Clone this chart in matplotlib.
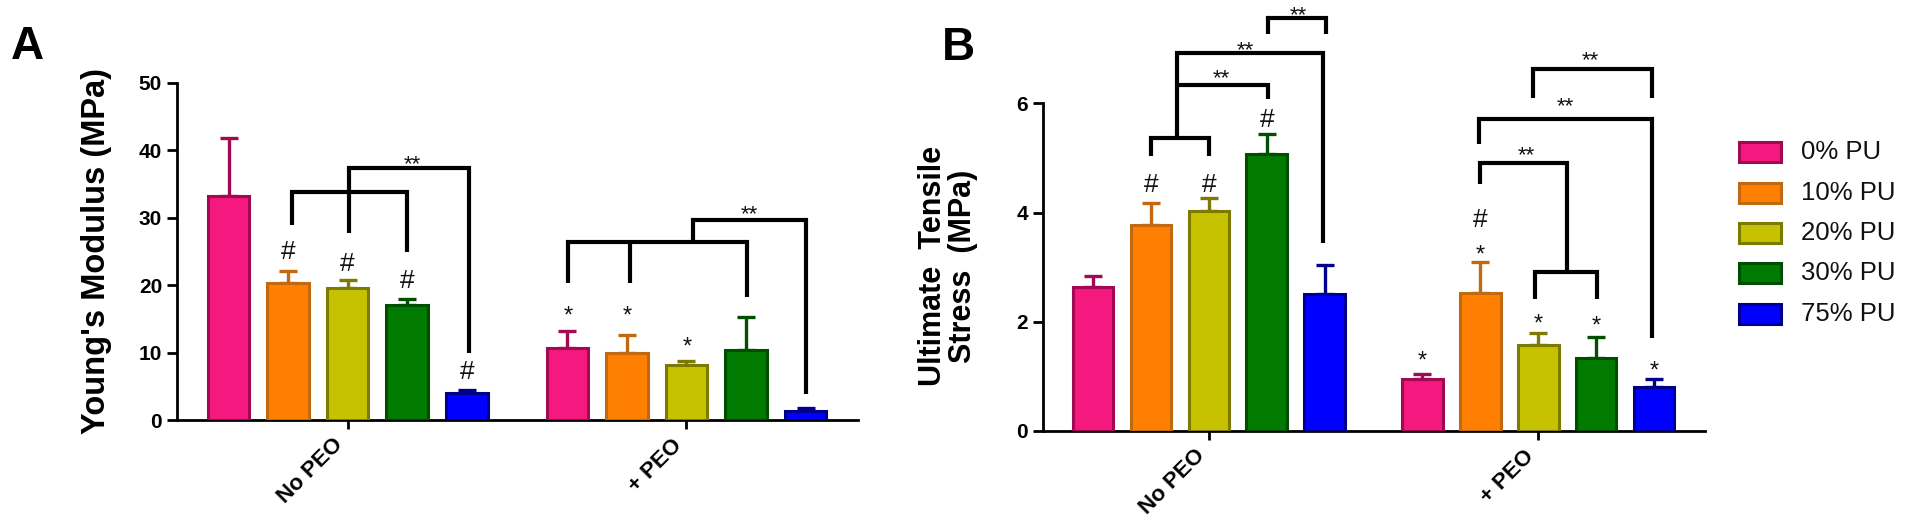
import matplotlib
matplotlib.use("Agg")
import matplotlib.pyplot as plt
from matplotlib.patches import Rectangle
import numpy as np

plt.rcParams['font.family'] = ['Liberation Sans', 'DejaVu Sans']

# ---------------- data ----------------
groups = ['No PEO', '+ PEO']
series = ['0% PU', '10% PU', '20% PU', '30% PU', '75% PU']

modulus_no_peo = [33.2, 20.3, 19.5, 17.0, 3.95]
modulus_no_peo_err = [8.6, 1.8, 1.2, 0.9, 0.55]
modulus_peo = [10.6, 9.9, 8.15, 10.4, 1.4]
modulus_peo_err = [2.6, 2.7, 0.65, 4.8, 0.4]

uts_no_peo = [2.63, 3.77, 4.03, 5.07, 2.50]
uts_no_peo_err = [0.21, 0.40, 0.23, 0.36, 0.54]
uts_peo = [0.95, 2.52, 1.58, 1.33, 0.80]
uts_peo_err = [0.09, 0.58, 0.21, 0.39, 0.15]

# significance annotations (x in bar slots, y in data units)
a_brackets = [
    [(-0.94, 28.9), (-0.94, 33.8), (1.0, 33.8), (1.0, 24.9)],
    [(0.03, 27.7), (0.03, 37.4), (2.03, 37.4), (2.03, 9.9)],
    [(3.70, 20.3), (3.70, 26.4), (6.70, 26.4), (6.70, 18.2)],
    [(4.74, 20.3), (4.74, 26.4)],
    [(5.80, 26.4), (5.80, 29.7), (7.69, 29.7), (7.69, 3.8)],
]
a_double = [(1.08, 39.0), (6.74, 31.6)]
a_marks = [('#', -1, 25.2), ('#', 0, 23.5), ('#', 1, 21.0), ('#', 2, 7.4),
           ('*', 3.70, 16.5), ('*', 4.70, 16.5), ('*', 5.70, 11.9)]

b_brackets = [
    [(-1.0, 5.04), (-1.0, 5.37), (0.0, 5.37), (0.0, 5.04)],
    [(-0.55, 5.37), (-0.55, 6.92), (1.98, 6.92), (1.98, 3.44)],
    [(-0.55, 6.34), (1.03, 6.34), (1.03, 6.07)],
    [(1.02, 7.27), (1.02, 7.56), (2.03, 7.56), (2.03, 7.27)],
    [(4.69, 4.52), (4.69, 4.90), (6.18, 4.90), (6.18, 2.92)],
    [(5.64, 2.42), (5.64, 2.92), (6.70, 2.92), (6.70, 2.42)],
    [(4.66, 5.25), (4.66, 5.71), (7.66, 5.71), (7.66, 1.70)],
    [(5.60, 6.09), (5.60, 6.62), (7.66, 6.62), (7.66, 6.09)],
]
b_double = [(0.22, 6.58), (0.63, 7.10), (1.54, 7.74), (5.48, 5.18), (6.16, 6.07), (6.59, 6.92)]
b_marks = [('#', -1, 4.54), ('#', 0, 4.55), ('#', 1, 5.73),
           ('*', 3.69, 1.42), ('#', 4.69, 3.90), ('*', 4.69, 3.35),
           ('*', 5.69, 2.09), ('*', 6.69, 2.05), ('*', 7.69, 1.24)]

fills = ['#F4187F', '#FF8000', '#C6C200', '#007A00', '#0000FF']
edges = ['#A00A52', '#C2680E', '#7C7A00', '#004F00', '#00008C']

# ---------------- layout ----------------
W, H = 1912, 526
fig = plt.figure(figsize=(W / 100, H / 100), dpi=100)

group_centers = np.array([0.0, 5.69])
slot = np.arange(5) - 2
bar_w = 0.70
xlim = (-2.87, 8.57)


def px_rect(left, right, top, bottom):
    return [left / W, 1 - bottom / H, (right - left) / W, (bottom - top) / H]


def mark(ax, x, y, s, size):
    frac = 0.35 if s == '#' else 0.585
    ax.annotate(s, (x, y), xytext=(0, -frac * size), textcoords='offset points',
                ha='center', va='baseline', fontsize=size, annotation_clip=False,
                color='#111111')


def panel(ax, no_peo, no_peo_err, peo, peo_err, ylim, yticks,
          brackets, doubles, marks):
    for i in range(5):
        xs = group_centers + slot[i]
        vals = [no_peo[i], peo[i]]
        errs = [no_peo_err[i], peo_err[i]]
        ax.errorbar(xs, vals, yerr=[[0, 0], errs], fmt='none', ecolor=edges[i],
                    elinewidth=2.4, capsize=6.5, capthick=2.4, zorder=2)
        ax.bar(xs, vals, width=bar_w, color=fills[i], edgecolor=edges[i],
               linewidth=2.2, zorder=3, label=series[i])
    for path in brackets:
        xs, ys = zip(*path)
        ax.plot(xs, ys, color='black', lw=3.0, clip_on=False,
                solid_joinstyle='miter', solid_capstyle='butt', zorder=5)
    for (x, y) in doubles:
        mark(ax, x, y, '**', 16)
    for (s, x, y) in marks:
        mark(ax, x, y, s, 19 if s == '#' else 17)

    ax.set_xlim(*xlim)
    ax.set_ylim(*ylim)
    ax.set_yticks(yticks)
    ax.set_xticks(group_centers)
    ax.set_xticklabels(groups, rotation=45, ha='right', rotation_mode='default',
                       fontsize=16, fontweight='bold')
    for lab in ax.get_yticklabels():
        lab.set_fontweight('bold')
    ax.tick_params(axis='y', labelsize=15, length=7, width=2, pad=3.5, direction='out')
    ax.tick_params(axis='x', length=6.5, width=2, pad=4, direction='out')
    for s in ['top', 'right']:
        ax.spines[s].set_visible(False)
    for s in ['left', 'bottom']:
        ax.spines[s].set_linewidth(2)
    ax.patch.set_alpha(0)


axA = fig.add_axes(px_rect(176.7, 858, 82.7, 420))
panel(axA, modulus_no_peo, modulus_no_peo_err, modulus_peo, modulus_peo_err,
      (0, 50), [0, 10, 20, 30, 40, 50], a_brackets, a_double, a_marks)
axA.set_ylabel("Young's Modulus (MPa)", fontsize=23.5, fontweight='bold', va='center')
axA.yaxis.set_label_coords(-0.1174, 0.5)

axB = fig.add_axes(px_rect(1042.7, 1705, 103.3, 431))
panel(axB, uts_no_peo, uts_no_peo_err, uts_peo, uts_peo_err,
      (0, 6), [0, 2, 4, 6], b_brackets, b_double, b_marks)
axB.set_ylabel("Ultimate  Tensile\nStress  (MPa)", fontsize=22, fontweight='bold',
               va='center', ha='center', multialignment='center', linespacing=1.0)
axB.yaxis.set_label_coords(-0.1437, 0.503)

# panel letters
fig.text(27 / W, 1 - 47 / H, 'A', fontsize=33, fontweight='bold', ha='center', va='center')
fig.text(958 / W, 1 - 48 / H, 'B', fontsize=33, fontweight='bold', ha='center', va='center')

# legend
row_y = [152, 193, 233, 273, 314]
for i in range(5):
    fig.add_artist(Rectangle(((1739) / W, 1 - (row_y[i] + 10) / H), 42 / W, 20 / H,
                             transform=fig.transFigure, facecolor=fills[i],
                             edgecolor=edges[i], linewidth=2.2))
    fig.text(1801 / W, 1 - row_y[i] / H, series[i], fontsize=18.5,
             ha='left', va='center', color='#111111')

fig.savefig('out.png', dpi=100)
